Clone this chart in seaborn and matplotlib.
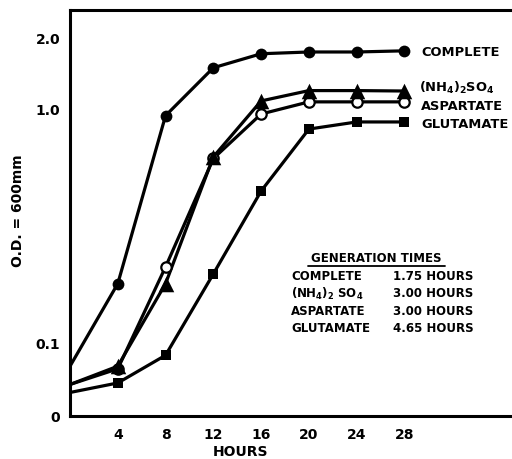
import numpy as np
import pandas as pd
import matplotlib
matplotlib.use("Agg")
import matplotlib.pyplot as plt
from matplotlib.ticker import NullLocator
from matplotlib.lines import Line2D
import seaborn as sns

# ---- data ----
hours = [0, 4, 8, 12, 16, 20, 24, 28]
complete = [0.079, 0.178, 0.93, 1.49, 1.71, 1.74, 1.74, 1.76]
ammonium = [0.066, 0.079, 0.178, 0.62, 1.075, 1.19, 1.19, 1.185]
aspartate = [0.066, 0.077, 0.21, 0.61, 0.945, 1.065, 1.065, 1.065]
glutamate = [0.061, 0.067, 0.088, 0.196, 0.443, 0.815, 0.874, 0.874]

series_names = ["COMPLETE", "(NH$_4$)$_2$SO$_4$", "ASPARTATE", "GLUTAMATE"]
series_values = [complete, ammonium, aspartate, glutamate]

xtick_values = [4, 8, 12, 16, 20, 24, 28]
y_bottom = 0.0484
y_top = 2.63
ytick_values = [y_bottom, 0.1, 1.0, 2.0]
ytick_labels = ["0", "0.1", "1.0", "2.0"]

gen_media = ["COMPLETE", "(NH$_4$)$_2$ SO$_4$", "ASPARTATE", "GLUTAMATE"]
gen_times = ["1.75 HOURS", "3.00 HOURS", "3.00 HOURS", "4.65 HOURS"]

rows = []
for name, vals in zip(series_names, series_values):
    for h, v in zip(hours, vals):
        rows.append({"hours": h, "od": v, "medium": name})
df = pd.DataFrame(rows)

# ---- style ----
sns.set_style("white")
plt.rcParams["font.family"] = ["DejaVu Sans"]
plt.rcParams["font.weight"] = "bold"
plt.rcParams["text.color"] = "black"
plt.rcParams["axes.labelcolor"] = "black"
plt.rcParams["xtick.color"] = "black"
plt.rcParams["ytick.color"] = "black"
plt.rcParams["mathtext.fontset"] = "custom"
plt.rcParams["mathtext.rm"] = "DejaVu Sans:bold"
plt.rcParams["mathtext.default"] = "rm"

W, H = 512, 460
fig = plt.figure(figsize=(W / 100, H / 100), dpi=100)
ax_left, ax_right, ax_top, ax_bot = 70, 512, 11, 417
ax = fig.add_axes([ax_left / W, 1 - ax_bot / H, (ax_right - ax_left) / W, (ax_bot - ax_top) / H])

palette = {n: "black" for n in series_names}
sns.lineplot(data=df, x="hours", y="od", hue="medium", palette=palette,
             estimator=None, sort=False, linewidth=2.3, legend=False, ax=ax)

marker_styles = {
    series_names[0]: dict(marker="o", s=72, color="black", linewidth=0),
    series_names[2]: dict(marker="o", s=56, color="white", edgecolor="black", linewidth=1.6),
    series_names[1]: dict(marker="^", s=125, color="black", linewidth=0),
    series_names[3]: dict(marker="s", s=60, color="black", linewidth=0),
}
for name in [series_names[0], series_names[2], series_names[1], series_names[3]]:
    sub = df[(df["medium"] == name) & (df["hours"] > 0)]
    sns.scatterplot(data=sub, x="hours", y="od", ax=ax, legend=False, zorder=4,
                    **marker_styles[name])

ax.set_yscale("log")
ax.set_xlim(0, 37)
ax.set_ylim(y_bottom, y_top)
ax.set_yticks(ytick_values)
ax.set_yticklabels(ytick_labels)
ax.yaxis.set_minor_locator(NullLocator())
ax.set_xticks(xtick_values)
ax.set_xticklabels([str(v) for v in xtick_values])

for s in ["left", "top", "bottom"]:
    ax.spines[s].set_visible(True)
    ax.spines[s].set_linewidth(2.2)
    ax.spines[s].set_color("black")
ax.spines["right"].set_visible(False)

ax.tick_params(axis="both", which="major", direction="out", length=5, width=1.6,
               color="black", labelsize=10, labelcolor="black")
ax.tick_params(axis="x", pad=3)
ax.tick_params(axis="y", pad=2)
for lab in ax.get_xticklabels() + ax.get_yticklabels():
    lab.set_fontweight("bold")

ax.set_xlabel("HOURS", fontsize=10, fontweight="bold", color="black")
ax.xaxis.set_label_coords((240 - ax_left) / (ax_right - ax_left), (ax_bot - 445) / (ax_bot - ax_top))
ax.set_ylabel("O.D. = 600mm", fontsize=10, fontweight="bold", va="center", color="black")
ax.yaxis.set_label_coords((18 - ax_left) / (ax_right - ax_left), (ax_bot - 211) / (ax_bot - ax_top))

# series labels on the right
label_pos = [(421, 52), (419, 88), (421, 107), (421, 125)]
for name, (px, py) in zip(series_names, label_pos):
    fig.text(px / W, 1 - py / H, name, fontsize=9.4, fontweight="bold",
             ha="left", va="center", color="black")

# generation times table
fig.text(376 / W, 1 - 259 / H, "GENERATION TIMES", fontsize=8.5, fontweight="bold",
         ha="center", va="center", color="black")
fig.add_artist(Line2D([308 / W, 445 / W], [1 - 267 / H, 1 - 267 / H],
                      color="black", linewidth=1.3, transform=fig.transFigure))
row_y = [277, 294, 312, 329]
for med, gt, py in zip(gen_media, gen_times, row_y):
    fig.text(291 / W, 1 - py / H, med, fontsize=8.5, fontweight="bold", ha="left",
             va="center", color="black")
    fig.text(393 / W, 1 - py / H, gt, fontsize=8.5, fontweight="bold", ha="left",
             va="center", color="black")

fig.savefig("out.png", dpi=100)
